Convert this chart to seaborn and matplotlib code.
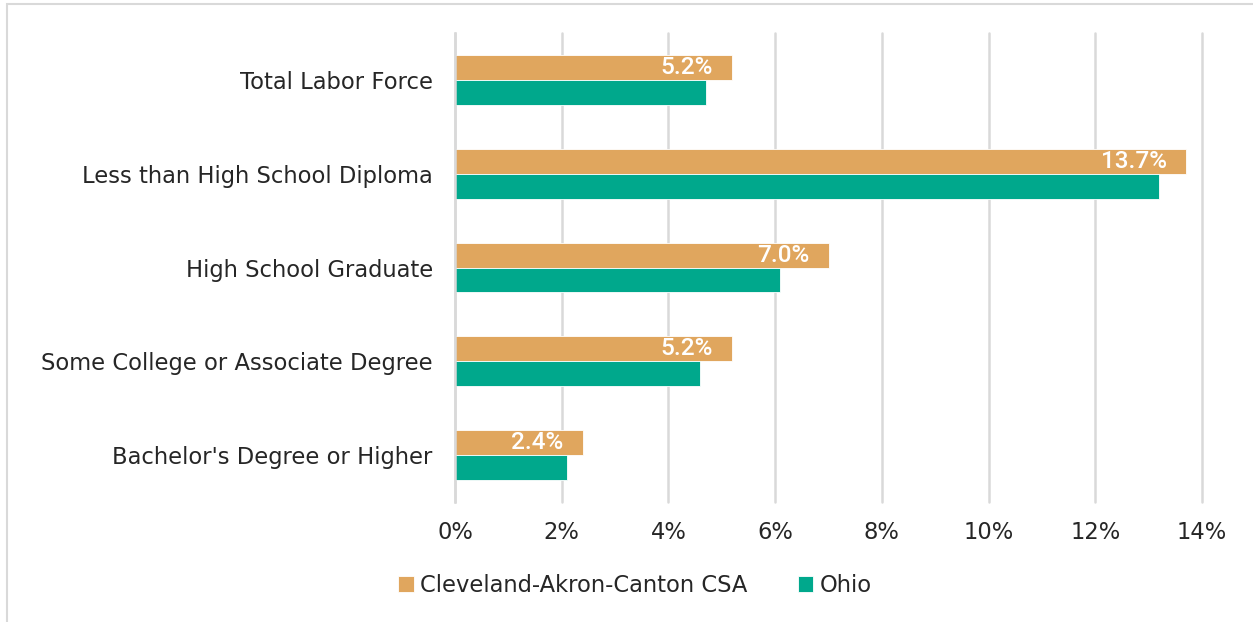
import matplotlib
matplotlib.use("Agg")
import matplotlib.pyplot as plt
import seaborn as sns
import pandas as pd
from matplotlib.patches import Rectangle
from matplotlib.ticker import FuncFormatter

categories = ["Total Labor Force", "Less than High School Diploma", "High School Graduate",
              "Some College or Associate Degree", "Bachelor's Degree or Higher"]
series_names = ["Cleveland-Akron-Canton CSA", "Ohio"]
csa_values = [5.2, 13.7, 7.0, 5.2, 2.4]
ohio_values = [4.7, 13.2, 6.1, 4.6, 2.1]
x_ticks = [0, 2, 4, 6, 8, 10, 12, 14]

df = pd.DataFrame({
    "category": categories * 2,
    "series": [series_names[0]] * len(categories) + [series_names[1]] * len(categories),
    "value": csa_values + ohio_values,
})

sns.set_theme(style="white")
plt.rcParams["font.family"] = ["DejaVu Sans"]

W, H = 1253, 622
fig = plt.figure(figsize=(W / 100, H / 100), dpi=100)
ax = fig.add_axes([455 / W, 1 - 502 / H, (1202 - 455) / W, (502 - 33) / H])

colors = {"Cleveland-Akron-Canton CSA": "#E0A65E", "Ohio": "#00A88C"}
sns.barplot(data=df, y="category", x="value", hue="series", hue_order=series_names,
            order=categories, palette=colors, saturation=1, width=0.53, orient="h", ax=ax,
            edgecolor="white", linewidth=0.6, legend=True)

ax.set_xlim(0, 14)
ax.set_xticks(x_ticks)
ax.xaxis.set_major_formatter(FuncFormatter(lambda v, p: f"{v:.0f}%"))
ax.grid(axis="x", color="#D9D9D9", linewidth=1.8)
for gl in ax.get_xgridlines():
    gl.set_clip_on(False)
ax.set_axisbelow(True)
for s in ["top", "right", "bottom"]:
    ax.spines[s].set_visible(False)
ax.spines["left"].set_color("#D9D9D9")
ax.spines["left"].set_linewidth(1.8)
ax.set_xlabel("")
ax.set_ylabel("")
ax.tick_params(axis="y", length=0, pad=16, labelsize=16.3, labelcolor="#262626")
ax.tick_params(axis="x", length=0, pad=14, labelsize=16.3, labelcolor="#262626")

# data labels on CSA bars
csa_container = ax.containers[0]
ax.bar_label(csa_container, labels=[f"{v:.1f}%" for v in csa_values], label_type="edge",
             padding=-14, color="white", fontsize=17.5, fontweight="medium",
             family=["Roboto", "DejaVu Sans"])
for t in ax.texts:
    t.set_ha("right")

handles, labels = ax.get_legend_handles_labels()
ax.legend_.remove()
fig.legend(handles, labels, loc="center", bbox_to_anchor=(635 / W, 1 - 585 / H), ncol=2,
           frameon=False, fontsize=16.3, handlelength=0.7, handleheight=0.7,
           handletextpad=0.3, columnspacing=2.2, labelcolor="#262626")

fig.patches.append(Rectangle((7 / W, -0.01), 1.0, 1 - 4 / H + 0.01,
                             transform=fig.transFigure, fill=False,
                             edgecolor="#D9D9D9", linewidth=1.5))

fig.savefig("out.png", dpi=100)
